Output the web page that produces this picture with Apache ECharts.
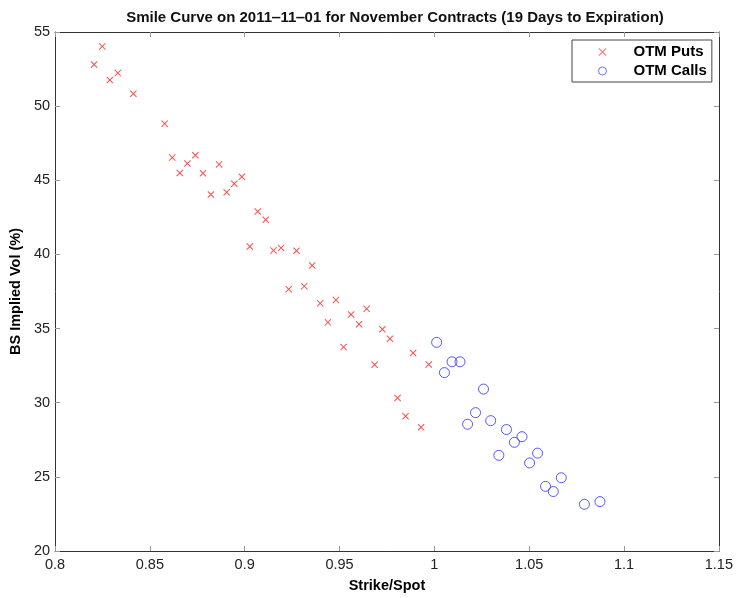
<!DOCTYPE html>
<html>
<head>
<meta charset="utf-8">
<script src="https://cdn.jsdelivr.net/npm/echarts@6/dist/echarts.min.js"></script>
<style>html,body{margin:0;padding:0;background:#fff;overflow:hidden}#c{width:736px;height:598px}</style>
</head>
<body>
<div id="c"></div>
<script>
var titleText = 'Smile Curve on 2011\u201211\u201201 for November Contracts (19 Days to Expiration)';
var xTickLabels = ['0.8','0.85','0.9','0.95','1','1.05','1.1','1.15'];
var yTickLabels = ['20','25','30','35','40','45','50','55'];

var putStrike = [0.8249,0.8206,0.8331,0.8289,0.8413,0.8578,0.8618,0.8740,0.8698,0.8658,0.8865,0.8780,0.8985,0.8945,0.8905,0.8822,0.9069,0.9111,
  0.9027,0.9152,0.9192,0.9273,0.9356,0.9232,0.9314,0.9398,0.9481,0.9439,0.9561,0.9643,0.9603,0.9726,0.9766,
  0.9521,0.9685,0.9888,0.9970,0.9806,0.9848,0.9930];
var putVol = [54.03,52.81,52.23,51.76,50.84,48.82,46.53,46.69,46.13,45.49,46.07,45.47,45.24,44.77,44.19,44.04,42.90,42.34,
  40.53,40.27,40.44,40.25,39.25,37.66,37.86,36.70,36.92,35.42,35.95,36.33,35.29,34.95,34.31,
  33.75,32.56,33.35,32.58,30.32,29.09,28.35];

var callStrike = [1.0012,1.0093,1.0135,1.0053,1.0259,1.0217,1.0175,1.0297,1.0380,1.0422,1.0462,1.0340,1.0544,1.0502,1.0669,1.0586,1.0627,1.0791,1.0873];
var callVol = [34.07,32.76,32.76,32.03,30.92,29.33,28.55,28.79,28.19,27.33,27.71,26.45,26.60,25.94,24.94,24.36,24.01,23.15,23.33];

function pairs(xs, ys){ return xs.map(function(x,i){ return [x, ys[i]]; }); }

var FONT = 'Liberation Sans, Arial, Helvetica, sans-serif';
// filled thin "x" shape
var xMark = 'path://M0,1L1,0L5,4L9,0L10,1L6,5L10,9L9,10L5,6L1,10L0,9L4,5Z';
var RED = '#ff2020';
var BLUE = '#3838ff';

var chart = echarts.init(document.getElementById('c'), null, {renderer:'canvas'});

function lab(v, arr, min, step){ var i = Math.round((v-min)/step); return arr[i] !== undefined ? arr[i] : ''; }

var axisCommon = {
  axisLine:{show:true, lineStyle:{color:'#333', width:1}},
  axisTick:{show:true, inside:true, length:5, lineStyle:{color:'#999'}},
  splitLine:{show:false}
};

chart.setOption({
  animation:false,
  backgroundColor:'#fff',
  tooltip:{show:false},
  title:{
    text:titleText, left:390, top:5, textAlign:'center',
    textStyle:{fontFamily:FONT, fontSize:15, fontWeight:'bold', color:'#111'}
  },
  grid:{left:53, right:16, top:32, bottom:39, containLabel:false},
  legend:{
    orient:'vertical', left:572, top:40,
    padding:[4,5,3,26], itemGap:3, itemWidth:8, itemHeight:8,
    borderColor:'#444', borderWidth:1, backgroundColor:'#fff',
    selectedMode:false,
    textStyle:{fontFamily:FONT, fontSize:15, fontWeight:'bold', color:'#000', lineHeight:16, padding:[0,0,0,22]},
    data:[
      {name:'OTM Puts', icon:xMark, itemStyle:{color:RED, borderWidth:0, opacity:0.6}},
      {name:'OTM Calls', icon:'circle', itemStyle:{color:'rgba(0,0,0,0)', borderColor:BLUE, borderWidth:1, opacity:0.7}}
    ]
  },
  xAxis:[
    Object.assign({type:'value', min:0.8, max:1.15, interval:0.05, position:'bottom',
      name:'Strike/Spot', nameLocation:'middle', nameGap:27,
      nameTextStyle:{fontFamily:FONT, fontSize:14.5, fontWeight:'bold', color:'#000'},
      axisLabel:{fontFamily:FONT, fontSize:14.5, color:'#222', margin:6,
        formatter:function(v){ return lab(v, xTickLabels, 0.8, 0.05); }}}, axisCommon),
    Object.assign({type:'value', min:0.8, max:1.15, interval:0.05, position:'top',
      axisLabel:{show:false}}, axisCommon)
  ],
  yAxis:[
    Object.assign({type:'value', min:20, max:55, interval:5, position:'left',
      name:'BS Implied Vol (%)', nameLocation:'middle', nameGap:28,
      nameTextStyle:{fontFamily:FONT, fontSize:14.5, fontWeight:'bold', color:'#000'},
      axisLabel:{fontFamily:FONT, fontSize:14.5, color:'#222', margin:5,
        formatter:function(v){ return lab(v, yTickLabels, 20, 5); }}}, axisCommon),
    Object.assign({type:'value', min:20, max:55, interval:5, position:'right',
      axisLabel:{show:false}}, axisCommon)
  ],
  series:[
    {name:'OTM Puts', type:'scatter', xAxisIndex:0, yAxisIndex:0,
      symbol:xMark, symbolSize:7,
      itemStyle:{color:RED, borderWidth:0, opacity:0.8},
      emphasis:{disabled:true}, silent:true,
      data:pairs(putStrike, putVol)},
    {name:'OTM Calls', type:'scatter', xAxisIndex:0, yAxisIndex:0,
      symbol:'circle', symbolSize:10,
      itemStyle:{color:'rgba(0,0,0,0)', borderColor:BLUE, borderWidth:1, opacity:0.85},
      emphasis:{disabled:true}, silent:true,
      data:pairs(callStrike, callVol)}
  ]
});
</script>
</body>
</html>
